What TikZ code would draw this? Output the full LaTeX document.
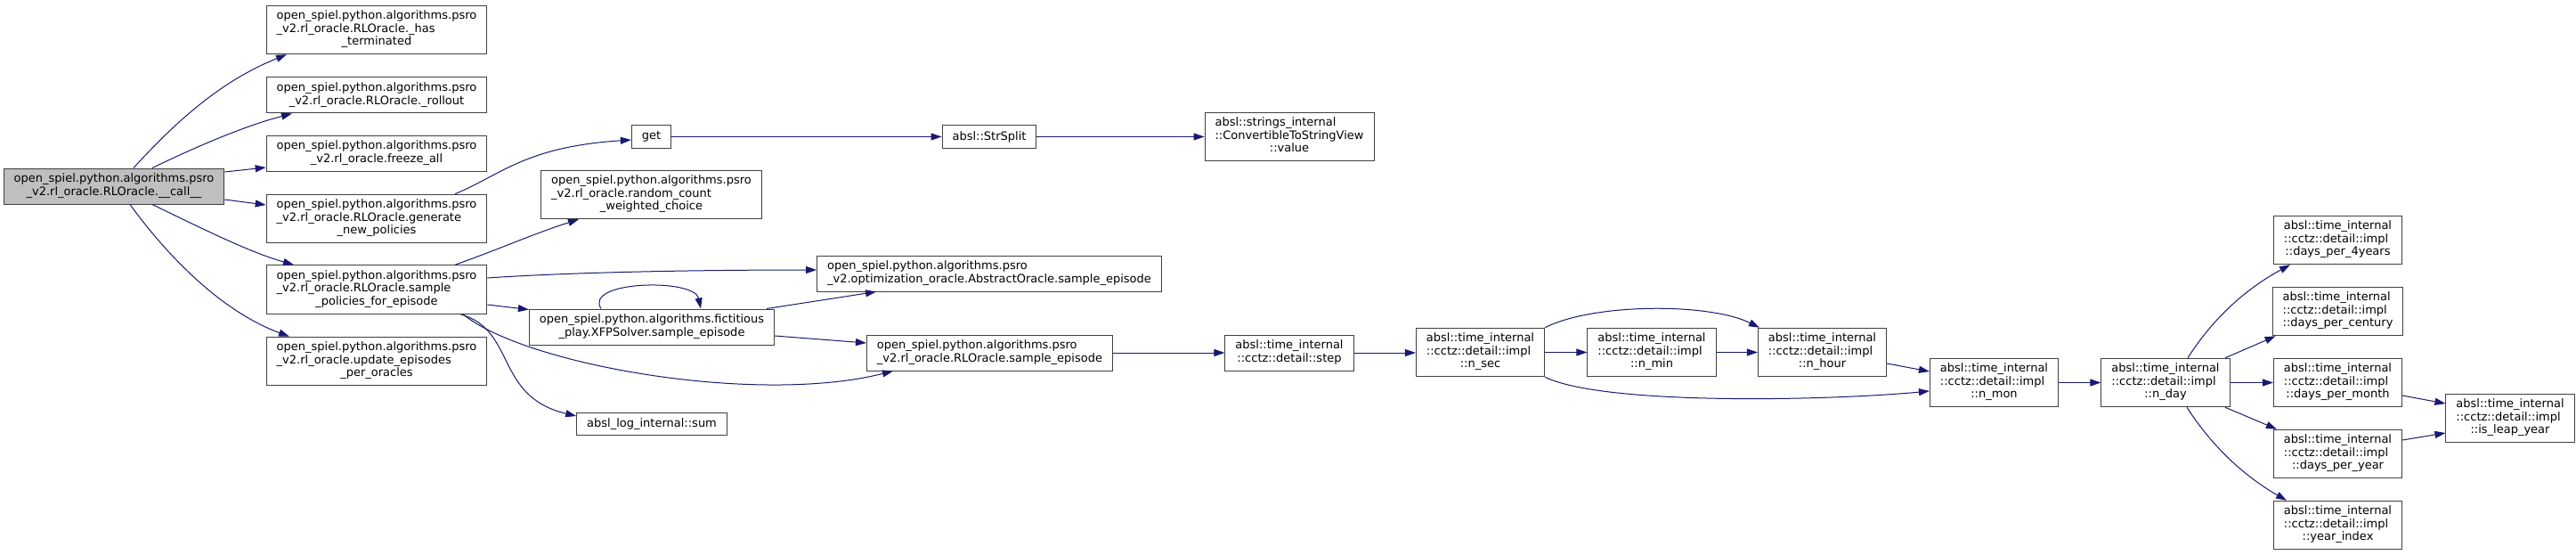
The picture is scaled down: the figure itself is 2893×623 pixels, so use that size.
\documentclass[tikz,border=0pt]{standalone}
\usepackage{fontspec}
\setmainfont{DejaVu Sans}
\usepackage{tikz}
\usetikzlibrary{arrows.meta}

\definecolor{edgeblue}{HTML}{191970}
\definecolor{boxline}{HTML}{404040}
\definecolor{rootfill}{HTML}{BFBFBF}

% last line of a doxygen label is centred, the others flush left
\newcommand{\fnlines}[2]{\begin{tabular}{@{}l@{}}#1\\\multicolumn{1}{@{}c@{}}{#2}\end{tabular}}

\begin{document}
\begin{tikzpicture}[x=1pt,y=-1pt,
    fn/.style={draw=boxline,line width=1pt,fill=white,inner xsep=11.5pt,inner ysep=5.5pt,
      minimum height=25pt,font=\fontsize{13}{14.5}\selectfont},
    rootfn/.style={fn,fill=rootfill},
    call/.style={draw=edgeblue,line width=1pt,-{Triangle[length=12pt,width=8pt]}}]
    \useasboundingbox (0,0) rectangle (2893,623);

    % caller
    \node[rootfn] (call) at (128,209) {\fnlines{open\_spiel.python.algorithms.psro}{\_v2.rl\_oracle.RLOracle.\_\_call\_\_}};

    % first level
    \node[fn] (hasterm) at (423,33.5) {\fnlines{open\_spiel.python.algorithms.psro\\\_v2.rl\_oracle.RLOracle.\_has}{\_terminated}};
    \node[fn] (rollout) at (423,107) {\fnlines{open\_spiel.python.algorithms.psro}{\_v2.rl\_oracle.RLOracle.\_rollout}};
    \node[fn] (freeze) at (423,172) {\fnlines{open\_spiel.python.algorithms.psro}{\_v2.rl\_oracle.freeze\_all}};
    \node[fn] (genpol) at (423,245.5) {\fnlines{open\_spiel.python.algorithms.psro\\\_v2.rl\_oracle.RLOracle.generate}{\_new\_policies}};
    \node[fn] (samplepol) at (423,325) {\fnlines{open\_spiel.python.algorithms.psro\\\_v2.rl\_oracle.RLOracle.sample}{\_policies\_for\_episode}};
    \node[fn] (updeps) at (423,405.5) {\fnlines{open\_spiel.python.algorithms.psro\\\_v2.rl\_oracle.update\_episodes}{\_per\_oracles}};

    % second level
    \node[fn] (get) at (731.5,153.5) {get};
    \node[fn] (randcnt) at (731.5,218.5) {\fnlines{open\_spiel.python.algorithms.psro\\\_v2.rl\_oracle.random\_count}{\_weighted\_choice}};
    \node[fn] (xfp) at (732,367) {\fnlines{open\_spiel.python.algorithms.fictitious}{\_play.XFPSolver.sample\_episode}};
    \node[fn] (sum) at (732,476) {absl\_log\_internal::sum};
    \node[fn] (strsplit) at (1111,153.5) {absl::StrSplit};
    \node[fn] (absep) at (1111,307) {\fnlines{open\_spiel.python.algorithms.psro}{\_v2.optimization\_oracle.AbstractOracle.sample\_episode}};
    \node[fn] (rlsep) at (1111.5,396) {\fnlines{open\_spiel.python.algorithms.psro}{\_v2.rl\_oracle.RLOracle.sample\_episode}};
    \node[fn] (cvalue) at (1448,153.5) {\fnlines{absl::strings\_internal\\::ConvertibleToStringView}{::value}};
    \node[fn] (step) at (1448,396) {\fnlines{absl::time\_internal}{::cctz::detail::step}};

    % time_internal chain
    \node[fn] (nsec) at (1662.5,395.5) {\fnlines{absl::time\_internal\\::cctz::detail::impl}{::n\_sec}};
    \node[fn] (nmin) at (1855,395.5) {\fnlines{absl::time\_internal\\::cctz::detail::impl}{::n\_min}};
    \node[fn] (nhour) at (2046.5,395.5) {\fnlines{absl::time\_internal\\::cctz::detail::impl}{::n\_hour}};
    \node[fn] (nmon) at (2239.5,429.5) {\fnlines{absl::time\_internal\\::cctz::detail::impl}{::n\_mon}};
    \node[fn] (nday) at (2432,429.5) {\fnlines{absl::time\_internal\\::cctz::detail::impl}{::n\_day}};
    \node[fn] (d4y) at (2625.5,269.5) {\fnlines{absl::time\_internal\\::cctz::detail::impl}{::days\_per\_4years}};
    \node[fn] (dcent) at (2625.5,349.5) {\fnlines{absl::time\_internal\\::cctz::detail::impl}{::days\_per\_century}};
    \node[fn] (dmonth) at (2625.5,429.5) {\fnlines{absl::time\_internal\\::cctz::detail::impl}{::days\_per\_month}};
    \node[fn] (dyear) at (2625.5,509.5) {\fnlines{absl::time\_internal\\::cctz::detail::impl}{::days\_per\_year}};
    \node[fn] (yidx) at (2625.5,589.5) {\fnlines{absl::time\_internal\\::cctz::detail::impl}{::year\_index}};
    \node[fn] (leap) at (2819,469.5) {\fnlines{absl::time\_internal\\::cctz::detail::impl}{::is\_leap\_year}};

    % calls from __call__
    \draw[call] ([xshift=22pt]call.north) .. controls (205,128) and (255,88) .. ([xshift=-101pt]hasterm.south);
    \draw[call] ([xshift=43pt]call.north) .. controls (230,160) and (280,140) .. ([xshift=-95pt]rollout.south);
    \draw[call] ([yshift=16pt]call.east) -- ([yshift=-16pt]freeze.west);
    \draw[call] ([yshift=-15pt]call.east) -- ([yshift=15.5pt]genpol.west);
    \draw[call] ([xshift=43pt]call.south) .. controls (230,258) and (280,283) .. ([xshift=-93pt]samplepol.north);
    \draw[call] ([xshift=18pt]call.south) .. controls (190,290) and (250,350) .. ([xshift=-98pt]updeps.north);

    % generate_new_policies
    \draw[call] ([xshift=88pt]genpol.north) .. controls (565,195) and (590,165) .. ([yshift=-3.5pt]get.west);
    \draw[call] (get) -- (strsplit);
    \draw[call] (strsplit) -- (cvalue);

    % sample_policies_for_episode
    \draw[call] ([xshift=88pt]samplepol.north) .. controls (560,280) and (600,262) .. ([xshift=-81.5pt]randcnt.south);
    \draw[call] ([yshift=13pt]samplepol.east) .. controls (650,305) and (800,303) .. ([yshift=4pt]absep.west);
    \draw[call] ([yshift=-17pt]samplepol.east) -- ([yshift=-1pt]xfp.north west);
    \draw[call] ([xshift=97pt]samplepol.south) .. controls (590,410) and (850,455) .. ([xshift=-108.5pt]rlsep.south);
    \draw[call] ([xshift=94pt]samplepol.south) .. controls (580,370) and (555,445) .. ([yshift=9pt]sum.west);

    % XFPSolver
    \draw[call] ([xshift=-57pt]xfp.north) .. controls (655,315) and (780,312) .. ([xshift=55pt]xfp.north);
    \draw[call] ([xshift=129pt]xfp.north) -- ([xshift=-127pt]absep.south);
    \draw[call] ([yshift=-10pt]xfp.east) -- ([yshift=11pt]rlsep.west);

    % down to the calendar
    \draw[call] (rlsep) -- (step);
    \draw[call] (step.east) -- (step.east -| nsec.west);
    \draw[call] (nsec) -- (nmin);
    \draw[call] (nmin) -- (nhour);
    \draw[call] (nsec.north east) .. controls (1790,340) and (1920,340) .. ([xshift=2pt]nhour.north west);
    \draw[call] (nsec.south east) .. controls (1800,455) and (2050,450) .. ([yshift=-9.5pt]nmon.west);
    \draw[call] ([yshift=-12.5pt]nhour.east) -- ([yshift=12.5pt]nmon.west);
    \draw[call] (nmon) -- (nday);

    % n_day
    \draw[call] ([xshift=25pt]nday.north) .. controls (2490,350) and (2530,320) .. ([xshift=-53.5pt]d4y.south);
    \draw[call] ([xshift=67pt]nday.north) -- ([xshift=4pt]dcent.south west);
    \draw[call] (nday) -- (dmonth);
    \draw[call] ([xshift=67pt]nday.south) -- ([xshift=4pt]dyear.north west);
    \draw[call] ([xshift=24pt]nday.south) .. controls (2490,510) and (2530,540) .. ([xshift=-57.5pt]yidx.north);
    \draw[call] ([yshift=-14.5pt]dmonth.east) -- ([yshift=16.5pt]leap.west);
    \draw[call] ([yshift=15.5pt]dyear.east) -- ([yshift=-16.5pt]leap.west);
\end{tikzpicture}
\end{document}
